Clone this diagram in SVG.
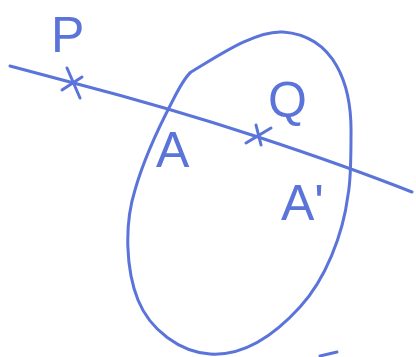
<svg xmlns="http://www.w3.org/2000/svg" width="416" height="357" viewBox="0 0 416 357">
<style>
.ink{fill:none;stroke:#5b74d9;stroke-width:3;stroke-linecap:round;stroke-linejoin:round}
.lbl{fill:#5b74d9;font-family:"Liberation Sans",Arial,sans-serif;font-size:50px}
</style>
<rect width="416" height="357" fill="#ffffff"/>
<g id="region">
<path class="ink" d="M191,72 C215,58 255,30 283,32 C335,36 352,85 351,135 C351,160 351,180 348,195 C343,235 325,280 300,307 C270,340 240,356 210,354 C180,352 150,330 138,300 C126,270 124,225 135,190 C145,155 160,125 172,102 C178,90 184,78 191,72 Z"/>
<path class="ink" d="M320,356 L337,352"/>
</g>
<g id="connectors">
<path id="line" class="ink" d="M10,66 L70,82 Q170,108 258,137 T412,192"/>
</g>
<g id="P">
<path class="ink" d="M67,68 L80,98 M62,90 L82,77"/>
<text class="lbl" x="51" y="52">P</text>
</g>
<g id="Q">
<path class="ink" d="M256,125 L261,145 M246,143 L271,128"/>
<text class="lbl" x="268" y="117">Q</text>
</g>
<g id="A">
<text class="lbl" x="156" y="167">A</text>
</g>
<g id="A2">
<text class="lbl" x="281" y="220">A'</text>
</g>
</svg>
